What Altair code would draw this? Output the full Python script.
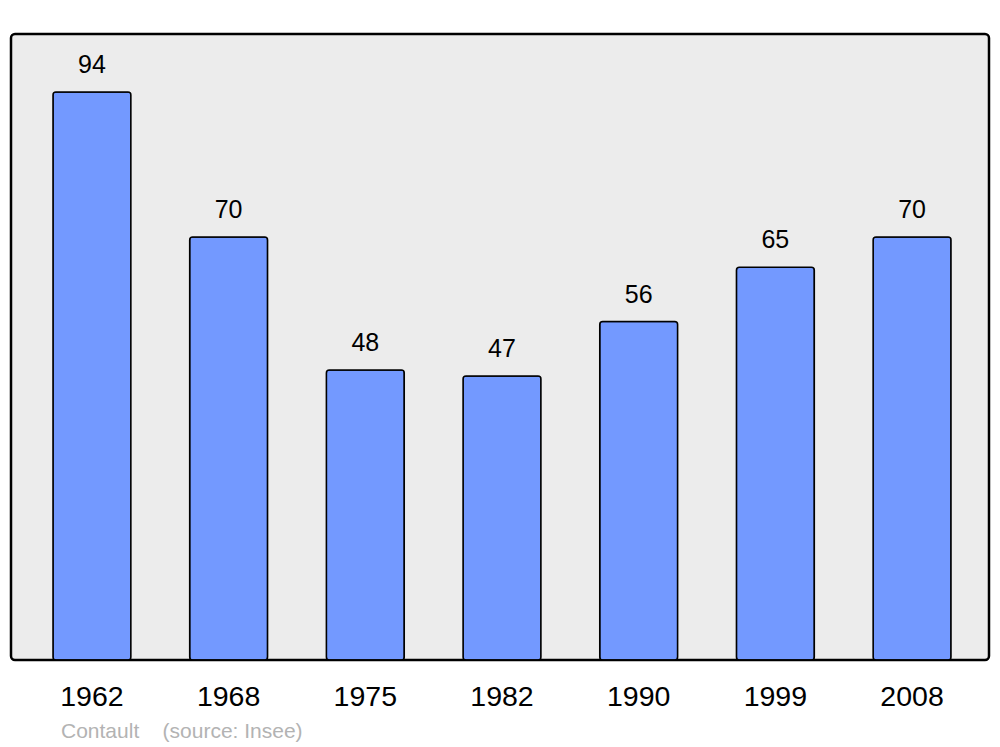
import altair as alt
import pandas as pd

years = ["1962", "1968", "1975", "1982", "1990", "1999", "2008"]
population = [94, 70, 48, 47, 56, 65, 70]

df = pd.DataFrame({"year": years, "pop": population})

x = alt.X("year:N", sort=years, title=None,
          scale=alt.Scale(paddingInner=0.43, paddingOuter=0.2925, align=0.525),
          axis=alt.Axis(labelAngle=0, ticks=False, tickSize=0, domain=False,
                        labelFontSize=28.5, labelFont="Liberation Sans", labelColor="black",
                        labelPadding=45, labelBaseline="alphabetic"))
y = alt.Y("pop:Q", title=None, scale=alt.Scale(domain=[0, 103.6], nice=False),
          axis=None)

bars = alt.Chart(df).mark_bar(color="#7399ff", stroke="black", strokeWidth=1.5,
                              cornerRadius=3).encode(x=x, y=y)
labels = alt.Chart(df).mark_text(fontSize=25, font="Liberation Sans", color="black",
                                 baseline="alphabetic", dy=-19).encode(
    x=alt.X("year:N", sort=years), y="pop:Q", text="pop:Q")

chart = alt.layer(bars, labels).properties(
    width=978, height=626,
    autosize=alt.AutoSizeParams(type="none"),
    padding={"left": 3, "top": 26, "right": 3, "bottom": 85},
    title=alt.TitleParams(text="Contault\u00a0\u00a0\u00a0\u00a0(source: Insee)", orient="bottom",
                          anchor="start", dx=50, offset=10, fontSize=21,
                          font="Liberation Sans", fontWeight="normal", color="#b3b3b3"),
).configure_view(fill="#ececec", stroke="black", strokeWidth=2.5, cornerRadius=4)

chart.save("out.html", embed_options={"renderer": "svg", "actions": False})
